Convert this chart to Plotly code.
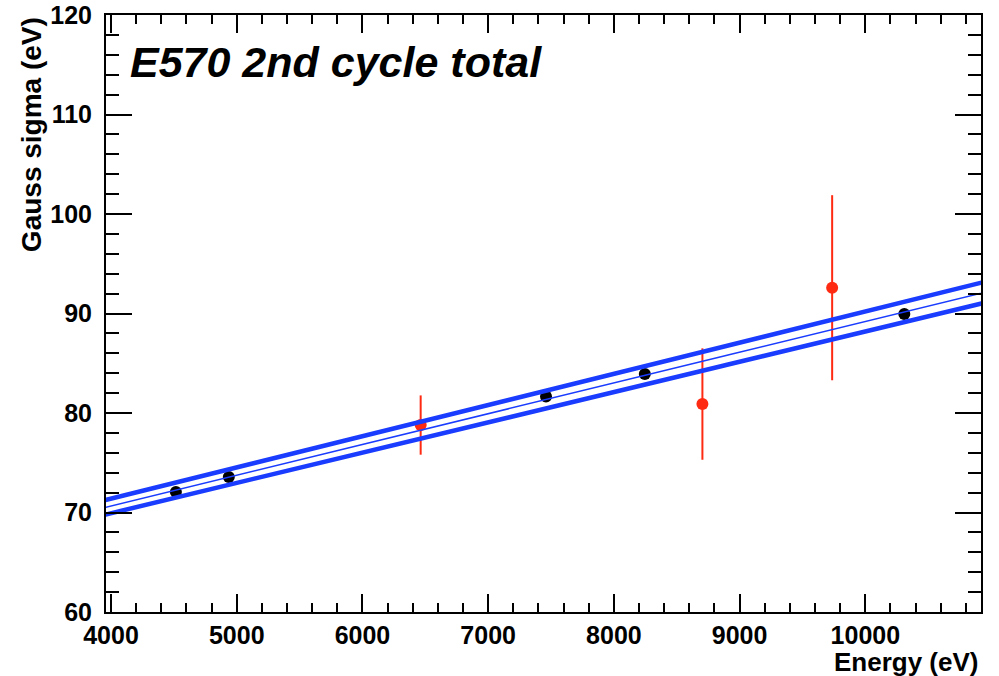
import numpy as np
import plotly.graph_objects as go

# Calibration lines (black) and kaonic-helium lines (red): energy vs Gaussian sigma
energy_cal = [4516, 4937, 7460, 8246, 10310]
sigma_cal = [72.06, 73.57, 81.66, 83.92, 89.95]
sigma_cal_err = [0.35, 0.35, 0.40, 0.45, 0.55]

energy_khe = [6463, 8704, 9736]
sigma_khe = [78.79, 80.90, 92.59]
sigma_khe_err = [2.98, 5.60, 9.30]

# Linear fit sigma = p0 + p1*E and its error band half-width (h0 + h1*E)
fit_p0 = 58.30
fit_p1 = 3.09e-3
band_h0 = 0.55
band_h1 = 4.6e-5

x_range = [3960, 10920]
y_range = [60, 120]

BLUE = "#1a3cff"
RED = "#ff2a12"
FONT = "Liberation Sans"

e_grid = np.linspace(x_range[0] - 50, x_range[1] + 50, 300)
fit_mid = fit_p0 + fit_p1 * e_grid
half = band_h0 + band_h1 * e_grid

fig = go.Figure()

fig.add_trace(go.Scatter(
    x=energy_cal, y=sigma_cal, mode="markers",
    marker=dict(color="black", size=12),
    error_y=dict(type="data", array=sigma_cal_err, color="black", thickness=1, width=0),
    showlegend=False,
))
fig.add_trace(go.Scatter(
    x=energy_khe, y=sigma_khe, mode="markers",
    marker=dict(color=RED, size=12),
    error_y=dict(type="data", array=sigma_khe_err, color=RED, thickness=2, width=0),
    showlegend=False,
))

for yy, w in [(fit_mid + half, 4.5), (fit_mid, 1.5), (fit_mid - half, 4.5)]:
    fig.add_trace(go.Scatter(
        x=e_grid, y=yy, mode="lines",
        line=dict(color=BLUE, width=w),
        showlegend=False, hoverinfo="skip",
    ))

axis_common = dict(
    showline=True, linecolor="black", linewidth=2, mirror="allticks",
    ticks="inside", tickcolor="black", tickwidth=2,
    showgrid=False, zeroline=False, automargin=False,
    tickfont=dict(family=FONT, size=25, color="black", weight="bold"),
)

fig.update_xaxes(
    range=x_range, tick0=4000, dtick=1000, ticklen=18, tickformat="d",
    minor=dict(ticks="inside", dtick=200, tick0=4000, ticklen=9, tickwidth=1.5, tickcolor="black"),
    ticklabelstandoff=0,
    **axis_common,
)
fig.update_yaxes(
    range=y_range, tick0=60, dtick=10, ticklen=26,
    minor=dict(ticks="inside", dtick=2, tick0=60, ticklen=13, tickwidth=1.5, tickcolor="black"),
    ticklabelstandoff=7,
    **axis_common,
)

fig.add_annotation(
    text="<b><i>E570 2nd cycle total</i></b>", xref="paper", yref="paper",
    x=0.025, y=0.922, xanchor="left", yanchor="middle", showarrow=False,
    font=dict(family=FONT, size=43, color="black"),
)
fig.add_annotation(
    text="<b>Energy (eV)</b>", xref="paper", yref="paper",
    x=1.0, y=-0.056, xanchor="right", yanchor="top", showarrow=False,
    font=dict(family=FONT, size=26, color="black"),
)
fig.add_annotation(
    text="<b>Gauss sigma (eV)</b>", xref="paper", yref="paper",
    x=-0.085, y=1.0, xanchor="center", yanchor="top", textangle=-90, showarrow=False,
    font=dict(family=FONT, size=28, color="black"),
)

fig.update_layout(
    width=999, height=676,
    margin=dict(l=106, r=18, t=15, b=64),
    paper_bgcolor="white", plot_bgcolor="white",
)

fig.write_html("out.html")
